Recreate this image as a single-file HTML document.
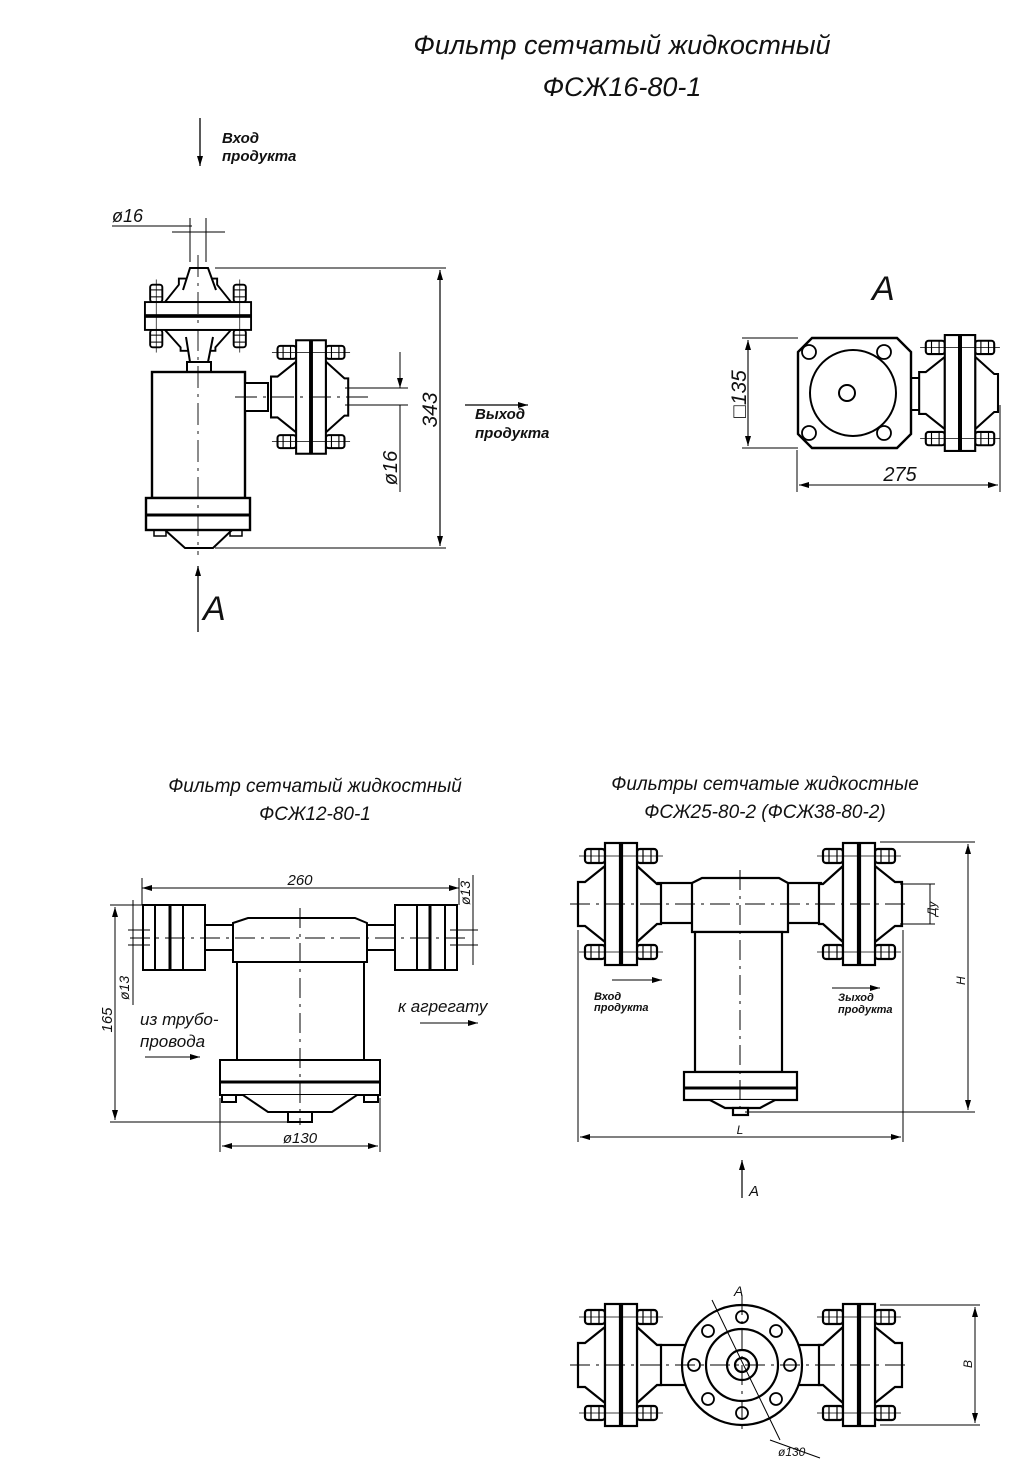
<!DOCTYPE html>
<html><head><meta charset="utf-8"><style>
html,body{margin:0;padding:0;background:#fff}
svg{display:block}
text{font-family:"Liberation Sans","DejaVu Sans",sans-serif;font-style:italic;fill:#111}
</style></head><body>
<svg width="1019" height="1466" viewBox="0 0 1019 1466" xmlns="http://www.w3.org/2000/svg">
<defs>
<g id="fa" fill="#fff" stroke="#000" stroke-width="2.2">
  <path d="M-16,-38 L-36,-22 L-43,-22 L-43,22 L-36,22 L-16,38 Z"/>
  <path d="M16,-38 L36,-20 L40,-20 L40,20 L36,20 L16,38 Z"/>
  <rect x="-36" y="-55" width="20" height="14" rx="3"/>
  <rect x="16" y="-55" width="20" height="14" rx="3"/>
  <rect x="-36" y="41" width="20" height="14" rx="3"/>
  <rect x="16" y="41" width="20" height="14" rx="3"/>
  <line x1="-30" y1="-55" x2="-30" y2="-41" stroke-width="1.2"/><line x1="-22" y1="-55" x2="-22" y2="-41" stroke-width="1.2"/>
  <line x1="22" y1="-55" x2="22" y2="-41" stroke-width="1.2"/><line x1="30" y1="-55" x2="30" y2="-41" stroke-width="1.2"/>
  <line x1="-30" y1="41" x2="-30" y2="55" stroke-width="1.2"/><line x1="-22" y1="41" x2="-22" y2="55" stroke-width="1.2"/>
  <line x1="22" y1="41" x2="22" y2="55" stroke-width="1.2"/><line x1="30" y1="41" x2="30" y2="55" stroke-width="1.2"/>
  <rect x="-16" y="-61" width="15" height="122"/>
  <rect x="1" y="-61" width="15" height="122"/>
  <line x1="0" y1="-60" x2="0" y2="60" stroke-width="3"/>
  <line x1="-42" y1="-48" x2="42" y2="-48" stroke-width="0.8"/>
  <line x1="-42" y1="48" x2="42" y2="48" stroke-width="0.8"/>
</g>
<marker id="ar" viewBox="0 0 10 6" refX="10" refY="3" markerWidth="10" markerHeight="6" orient="auto-start-reverse" markerUnits="userSpaceOnUse"><path d="M0,0 L10,3 L0,6 Z" fill="#000"/></marker>
</defs>

<!-- Title -->
<text x="622" y="54" font-size="27" text-anchor="middle">Фильтр сетчатый жидкостный</text>
<text x="622" y="96" font-size="27" text-anchor="middle">ФСЖ16-80-1</text>

<!-- Drawing 1 -->
<g stroke="#000" fill="none">
<line x1="200" y1="118" x2="200" y2="166" stroke-width="1.3" marker-end="url(#ar)"/>
<line x1="112" y1="226" x2="192" y2="226" stroke-width="1"/>
<line x1="190" y1="218" x2="190" y2="262" stroke-width="1"/>
<line x1="206" y1="218" x2="206" y2="262" stroke-width="1"/>
<line x1="172" y1="232" x2="225" y2="232" stroke-width="1"/>
<!-- top flange rotated -->
<use href="#fa" transform="translate(198,316) rotate(90) scale(0.87,0.87)"/>
<path d="M183,290 L190,268 L208,268 L216,290" stroke-width="2" fill="#fff"/>
<path d="M186,337 L190,362 L208,362 L213,337" stroke-width="2" fill="#fff"/>
<rect x="187" y="362" width="24" height="10" stroke-width="2" fill="#fff"/>
<!-- body -->
<rect x="152" y="372" width="93" height="126" stroke-width="2.4" fill="#fff"/>
<rect x="146" y="498" width="104" height="32" stroke-width="2.4" fill="#fff"/>
<line x1="146" y1="515" x2="250" y2="515" stroke-width="3"/>
<path d="M165,530 L185,548 L213,548 L232,530" stroke-width="2"/>
<rect x="154" y="530" width="12" height="6" stroke-width="1.5"/><rect x="230" y="530" width="12" height="6" stroke-width="1.5"/>
<!-- side -->
<rect x="245" y="383" width="23" height="28" stroke-width="2" fill="#fff"/>
<use href="#fa" transform="translate(311,397) scale(0.93,0.93)"/>
<line x1="198" y1="255" x2="198" y2="555" stroke-width="0.9" stroke-dasharray="22,6,3,6"/>
<line x1="235" y1="397" x2="370" y2="397" stroke-width="0.9" stroke-dasharray="22,6,3,6"/>
<!-- dims -->
<line x1="215" y1="268" x2="446" y2="268" stroke-width="1"/>
<line x1="215" y1="548" x2="446" y2="548" stroke-width="1"/>
<line x1="440" y1="270" x2="440" y2="546" stroke-width="1.2" marker-start="url(#ar)" marker-end="url(#ar)"/>
<line x1="345" y1="388" x2="408" y2="388" stroke-width="1"/>
<line x1="345" y1="405" x2="408" y2="405" stroke-width="1"/>
<line x1="400" y1="352" x2="400" y2="388" stroke-width="1" marker-end="url(#ar)"/>
<line x1="400" y1="405" x2="400" y2="492" stroke-width="1"/>
<line x1="465" y1="405" x2="528" y2="405" stroke-width="1.2" marker-end="url(#ar)"/>
<line x1="198" y1="632" x2="198" y2="566" stroke-width="1.3" marker-end="url(#ar)"/>
</g>
<text x="222" y="143" font-size="15" font-weight="bold">Вход</text>
<text x="222" y="161" font-size="15" font-weight="bold">продукта</text>
<text x="112" y="222" font-size="18">ø16</text>
<text x="475" y="419" font-size="15" font-weight="bold">Выход</text>
<text x="475" y="438" font-size="15" font-weight="bold">продукта</text>
<text transform="translate(437,410) rotate(-90)" font-size="21" text-anchor="middle">343</text>
<text transform="translate(397,468) rotate(-90)" font-size="20" text-anchor="middle">ø16</text>
<text x="203" y="620" font-size="34">A</text>

<!-- Drawing 2: view A -->
<text x="872" y="300" font-size="34">A</text>
<g stroke="#000" fill="none">
<rect x="900" y="378" width="26" height="32" stroke-width="2" fill="#fff"/>
<use href="#fa" transform="translate(960,393) scale(0.95,0.95)"/>
<path d="M812,338 L897,338 L911,352 L911,434 L897,448 L812,448 L798,434 L798,352 Z" stroke-width="2.4" fill="#fff"/>
<circle cx="853" cy="393" r="43" stroke-width="2"/>
<circle cx="847" cy="393" r="8" stroke-width="2"/>
<g stroke-width="1.8">
<circle cx="809" cy="352" r="7"/><circle cx="884" cy="352" r="7"/><circle cx="809" cy="433" r="7"/><circle cx="884" cy="433" r="7"/>
</g>
<line x1="742" y1="338" x2="798" y2="338" stroke-width="1"/>
<line x1="742" y1="448" x2="798" y2="448" stroke-width="1"/>
<line x1="748" y1="340" x2="748" y2="446" stroke-width="1.1" marker-start="url(#ar)" marker-end="url(#ar)"/>
<line x1="797" y1="450" x2="797" y2="492" stroke-width="1"/>
<line x1="1000" y1="405" x2="1000" y2="492" stroke-width="1"/>
<line x1="799" y1="485" x2="998" y2="485" stroke-width="1.1" marker-start="url(#ar)" marker-end="url(#ar)"/>
</g>
<text transform="translate(746,394) rotate(-90)" font-size="21" text-anchor="middle">□135</text>
<text x="900" y="481" font-size="20" text-anchor="middle">275</text>

<!-- Drawing 3 -->
<text x="315" y="792" font-size="19" text-anchor="middle">Фильтр сетчатый жидкостный</text>
<text x="315" y="820" font-size="19" text-anchor="middle">ФСЖ12-80-1</text>
<g stroke="#000" fill="#fff" stroke-width="2">
<rect x="205" y="925" width="30" height="25"/>
<rect x="365" y="925" width="30" height="25"/>
<rect x="143" y="905" width="62" height="65"/>
<line x1="170" y1="905" x2="170" y2="970" stroke-width="3"/>
<line x1="155" y1="905" x2="155" y2="970"/>
<line x1="183" y1="905" x2="183" y2="970"/>
<rect x="395" y="905" width="62" height="65"/>
<line x1="430" y1="905" x2="430" y2="970" stroke-width="3"/>
<line x1="417" y1="905" x2="417" y2="970"/>
<line x1="445" y1="905" x2="445" y2="970"/>
<path d="M233,923 L248,918 L355,918 L367,923 L367,962 L233,962 Z"/>
<rect x="237" y="962" width="127" height="98"/>
<rect x="220" y="1060" width="160" height="35"/>
<line x1="220" y1="1082" x2="380" y2="1082" stroke-width="3"/>
<path d="M243,1095 L268,1112 L332,1112 L357,1095"/>
<rect x="288" y="1112" width="24" height="10"/>
<rect x="222" y="1095" width="14" height="7"/><rect x="364" y="1095" width="14" height="7"/>
</g>
<g stroke="#000" fill="none" stroke-width="1">
<line x1="300" y1="908" x2="300" y2="1125" stroke-dasharray="20,6,3,6"/>
<line x1="130" y1="938" x2="470" y2="938" stroke-dasharray="20,6,3,6"/>
<line x1="142" y1="888" x2="459" y2="888" marker-start="url(#ar)" marker-end="url(#ar)"/>
<line x1="142" y1="878" x2="142" y2="905"/><line x1="459" y1="878" x2="459" y2="905"/>
<line x1="110" y1="905" x2="143" y2="905"/><line x1="110" y1="1122" x2="290" y2="1122"/>
<line x1="115" y1="907" x2="115" y2="1120" marker-start="url(#ar)" marker-end="url(#ar)"/>
<line x1="133" y1="900" x2="133" y2="1005"/>
<line x1="128" y1="930" x2="150" y2="930"/><line x1="128" y1="945" x2="150" y2="945"/>
<line x1="473" y1="875" x2="473" y2="965"/>
<line x1="450" y1="930" x2="478" y2="930"/><line x1="450" y1="945" x2="478" y2="945"/>
<line x1="220" y1="1098" x2="220" y2="1152"/><line x1="380" y1="1098" x2="380" y2="1152"/>
<line x1="222" y1="1146" x2="378" y2="1146" marker-start="url(#ar)" marker-end="url(#ar)"/>
<line x1="145" y1="1057" x2="200" y2="1057" marker-end="url(#ar)"/>
<line x1="420" y1="1023" x2="478" y2="1023" marker-end="url(#ar)"/>
</g>
<text x="300" y="885" font-size="15" text-anchor="middle">260</text>
<text transform="translate(129,1000) rotate(-90)" font-size="14">ø13</text>
<text transform="translate(470,905) rotate(-90)" font-size="14">ø13</text>
<text transform="translate(112,1020) rotate(-90)" font-size="15" text-anchor="middle">165</text>
<text x="300" y="1143" font-size="15" text-anchor="middle">ø130</text>
<text x="140" y="1025" font-size="17">из трубо-</text>
<text x="140" y="1047" font-size="17">провода</text>
<text x="398" y="1012" font-size="17">к агрегату</text>

<!-- Drawing 4 -->
<text x="765" y="790" font-size="19" text-anchor="middle">Фильтры сетчатые жидкостные</text>
<text x="765" y="818" font-size="19" text-anchor="middle">ФСЖ25-80-2 (ФСЖ38-80-2)</text>
<g stroke="#000" fill="#fff" stroke-width="2.2">
<rect x="658" y="883" width="35" height="40"/>
<rect x="786" y="883" width="35" height="40"/>
<use href="#fa" transform="translate(621,904)"/>
<use href="#fa" transform="translate(859,904) scale(-1,1)"/>
<path d="M692,883 L702,878 L779,878 L788,883 L788,932 L692,932 Z"/>
<rect x="695" y="932" width="87" height="140"/>
<rect x="684" y="1072" width="113" height="28"/>
<line x1="684" y1="1088" x2="797" y2="1088" stroke-width="3"/>
<path d="M710,1100 L725,1108 L760,1108 L775,1100"/>
<rect x="733" y="1108" width="15" height="7"/>
</g>
<g stroke="#000" fill="none" stroke-width="1">
<line x1="570" y1="904" x2="910" y2="904" stroke-dasharray="20,6,3,6"/>
<line x1="740" y1="870" x2="740" y2="1110" stroke-dasharray="20,6,3,6"/>
<line x1="578" y1="930" x2="578" y2="1142"/><line x1="903" y1="930" x2="903" y2="1142"/>
<line x1="580" y1="1137" x2="901" y2="1137" marker-start="url(#ar)" marker-end="url(#ar)"/>
<line x1="880" y1="842" x2="975" y2="842"/><line x1="745" y1="1112" x2="975" y2="1112"/>
<line x1="968" y1="844" x2="968" y2="1110" marker-start="url(#ar)" marker-end="url(#ar)"/>
<line x1="900" y1="884" x2="935" y2="884"/><line x1="900" y1="924" x2="935" y2="924"/>
<line x1="930" y1="884" x2="930" y2="924"/>
<line x1="612" y1="980" x2="662" y2="980" marker-end="url(#ar)"/>
<line x1="832" y1="988" x2="880" y2="988" marker-end="url(#ar)"/>
<line x1="742" y1="1198" x2="742" y2="1160" stroke-width="1.2" marker-end="url(#ar)"/>
</g>
<text transform="translate(936,916) rotate(-90)" font-size="12">Ду</text>
<text transform="translate(965,985) rotate(-90)" font-size="12">H</text>
<text x="740" y="1134" font-size="12" text-anchor="middle">L</text>
<text x="594" y="1000" font-size="11" font-weight="bold">Вход</text>
<text x="594" y="1011" font-size="11" font-weight="bold">продукта</text>
<text x="838" y="1001" font-size="11" font-weight="bold">Зыход</text>
<text x="838" y="1013" font-size="11" font-weight="bold">продукта</text>
<text x="749" y="1196" font-size="15">A</text>

<!-- Bottom view -->
<g stroke="#000" fill="#fff" stroke-width="2.2">
<rect x="658" y="1345" width="35" height="40"/>
<rect x="786" y="1345" width="35" height="40"/>
<use href="#fa" transform="translate(621,1365)"/>
<use href="#fa" transform="translate(859,1365) scale(-1,1)"/>
<circle cx="742" cy="1365" r="60"/>
<circle cx="742" cy="1365" r="36"/>
<circle cx="742" cy="1365" r="15"/>
<circle cx="742" cy="1365" r="7"/>
<g stroke-width="1.8">
<circle cx="742" cy="1317" r="6"/><circle cx="742" cy="1413" r="6"/>
<circle cx="708" cy="1331" r="6"/><circle cx="776" cy="1331" r="6"/>
<circle cx="708" cy="1399" r="6"/><circle cx="776" cy="1399" r="6"/>
<circle cx="694" cy="1365" r="6"/><circle cx="790" cy="1365" r="6"/>
</g>
</g>
<g stroke="#000" fill="none" stroke-width="1">
<line x1="570" y1="1365" x2="910" y2="1365" stroke-dasharray="20,6,3,6"/>
<line x1="742" y1="1295" x2="742" y2="1435" stroke-dasharray="20,6,3,6"/>
<line x1="712" y1="1300" x2="780" y2="1440"/>
<line x1="770" y1="1440" x2="820" y2="1458"/>
<line x1="880" y1="1305" x2="980" y2="1305"/><line x1="880" y1="1425" x2="980" y2="1425"/>
<line x1="975" y1="1307" x2="975" y2="1423" marker-start="url(#ar)" marker-end="url(#ar)"/>
</g>
<text x="734" y="1296" font-size="14">A</text>
<text transform="translate(972,1368) rotate(-90)" font-size="12">B</text>
<text x="778" y="1456" font-size="12">ø130</text>
</svg>
</body></html>
